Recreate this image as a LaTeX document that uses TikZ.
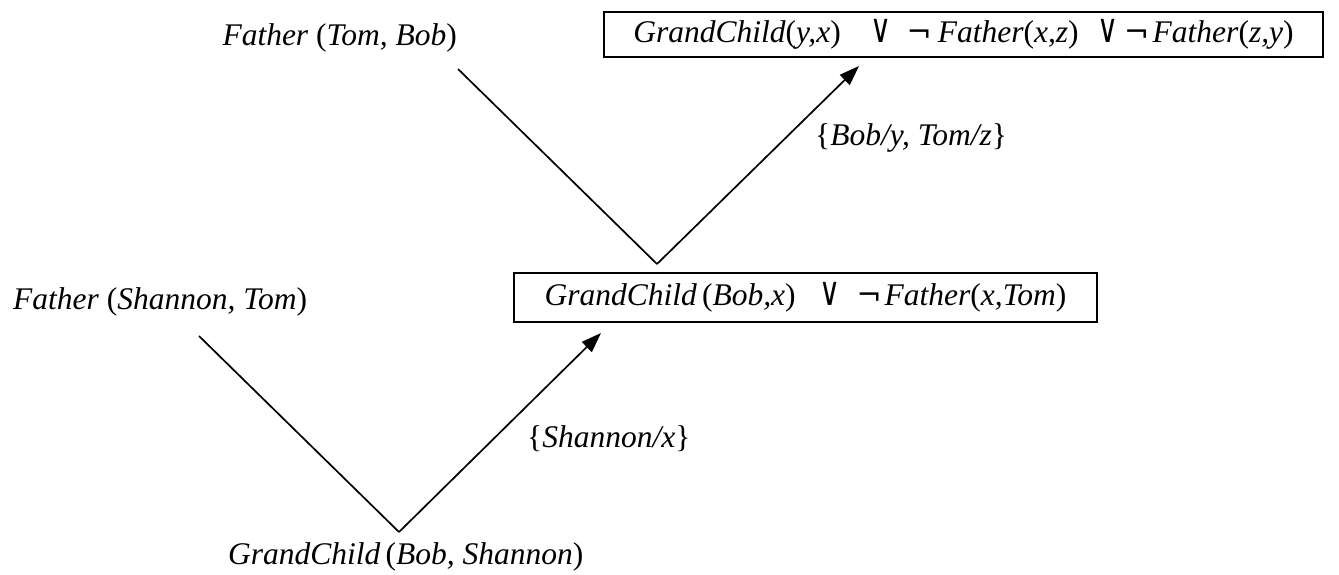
\documentclass[tikz,border=0pt]{standalone}
\usepackage{fontspec}
\usepackage{graphicx}
\setmainfont{Liberation Serif}
\newfontfamily\symf{DejaVu Sans}
\usetikzlibrary{arrows.meta}
\newcommand\lp{\textup{(}}
\newcommand\rp{\textup{)}}
\newcommand\lb{\textup{\{}}
\newcommand\rb{\textup{\}}}
\newcommand\myor[1]{\makebox[#1]{\scalebox{0.72}[1]{\symf\fontsize{40}{44}\selectfont ∨}}}
\newcommand\mynot[1]{\makebox[#1]{\symf\fontsize{30}{34}\selectfont ¬}}
\begin{document}
\begin{tikzpicture}[x=1pt,y=-1pt,
  txt/.style={inner sep=0pt,font=\fontsize{31.5}{38}\selectfont\itshape},
  clause/.style={txt,draw,line width=1.9pt},
  edge/.style={line width=1.7pt},
  arr/.style={edge,-{Triangle[length=20pt,width=14pt]}}]
\useasboundingbox (0,0) rectangle (1339,574);
% text nodes
\node[txt,anchor=base east] (fTB) at (457,45) {Father \lp Tom, Bob\rp};
\node[clause,minimum width=719pt,minimum height=45pt] (top) at (963.5,34.5)
  {GrandChild\lp y,x\rp\hspace{30pt}\myor{20pt}\hspace{16pt}\mynot{25pt}\hspace{6pt}Father\lp x,z\rp\hspace{20pt}\myor{18pt}\hspace{9pt}\mynot{22pt}\hspace{5pt}Father\lp z,y\rp};
\node[txt,anchor=base west] (sub1) at (815,145) {\lb Bob/y, Tom/z\rb};
\node[txt,anchor=base west] (fST) at (13,309) {Father \lp Shannon, Tom\rp};
\node[clause,minimum width=583pt,minimum height=49pt] (mid) at (805.5,297.5)
  {GrandChild\,\lp Bob,x\rp\hspace{24pt}\myor{20pt}\hspace{17pt}\mynot{25pt}\hspace{3pt}Father\lp x,Tom\rp};
\node[txt,anchor=base west] (sub2) at (527,447) {\lb Shannon/x\rb};
\node[txt,anchor=base west] (gBS) at (228,564) {GrandChild\,\lp Bob, Shannon\rp};
% connector points
\coordinate (s1) at (458,69);
\coordinate (a1) at (657,264);
\coordinate (t1) at (859,66);
\coordinate (s2) at (199,336);
\coordinate (a2) at (399,532);
\coordinate (t2) at (601,333);
\draw[edge] (s1) -- (a1);
\draw[arr] (a1) -- (t1);
\draw[edge] (s2) -- (a2);
\draw[arr] (a2) -- (t2);
\end{tikzpicture}
\end{document}
